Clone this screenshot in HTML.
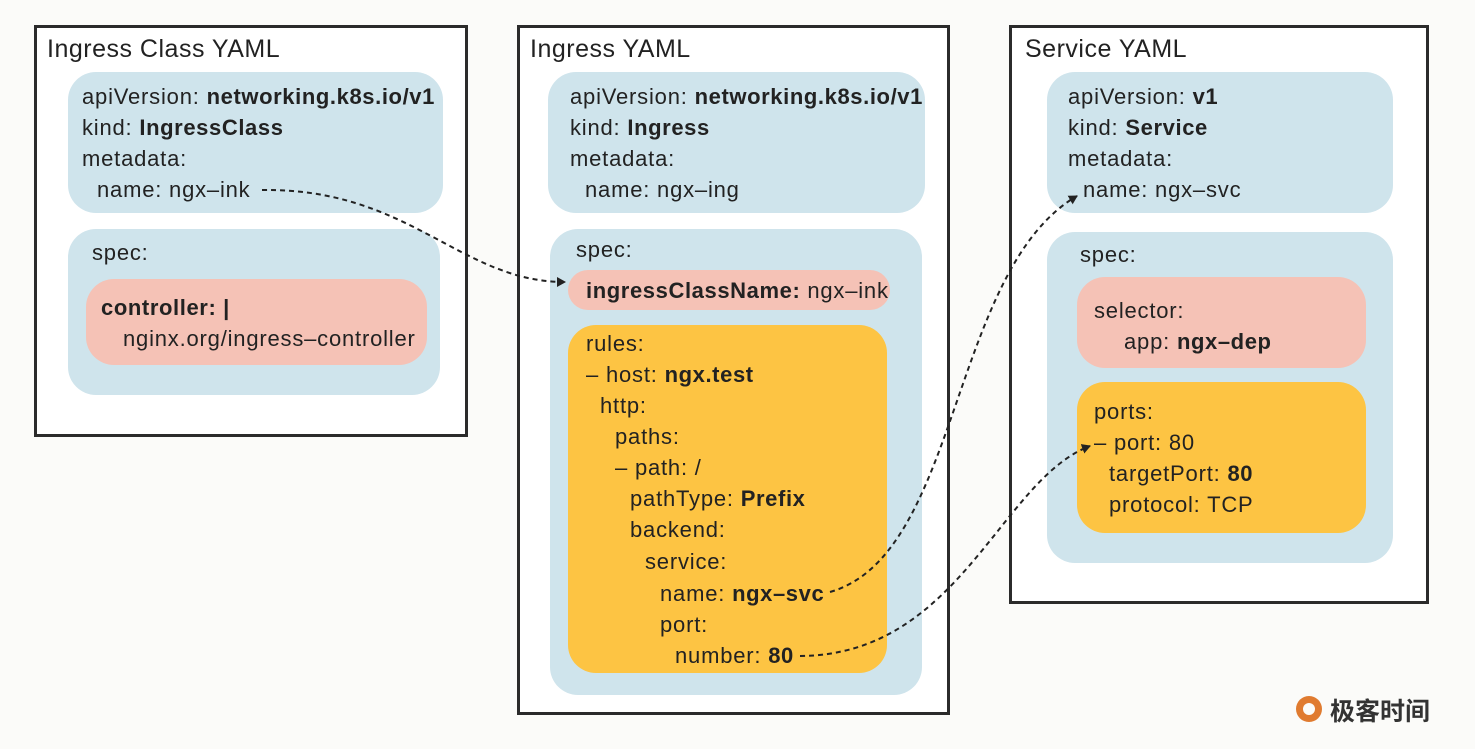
<!DOCTYPE html>
<html><head><meta charset="utf-8"><style>
body{margin:0;width:1475px;height:749px;background:#fbfbf9;position:relative;overflow:hidden;font-family:"Liberation Sans","Noto Sans CJK SC",sans-serif;color:#222}
.box{position:absolute;border:3px solid #2b2b2b;background:#fff;box-sizing:border-box}
.r{position:absolute;border-radius:28px}
.b{background:#cfe4ec}.p{background:#f5c2b6}.y{background:#fdc443}
.t{position:absolute;font-size:22px;letter-spacing:0.8px;line-height:24px;white-space:nowrap;transform:translateY(-12px)}
.h{position:absolute;font-size:25px;letter-spacing:0.5px;white-space:nowrap;transform:translateY(-14px)}
b{font-weight:bold;letter-spacing:0.6px}
</style></head><body>
<div class="box" style="left:34px;top:25px;width:434px;height:412px"></div>
<div class="box" style="left:517px;top:25px;width:433px;height:690px"></div>
<div class="box" style="left:1009px;top:25px;width:420px;height:579px"></div>

<div class="h" style="left:47px;top:49px">Ingress Class YAML</div>
<div class="h" style="left:530px;top:49px">Ingress YAML</div>
<div class="h" style="left:1025px;top:49px">Service YAML</div>

<div class="r b" style="left:68px;top:72px;width:375px;height:141px"></div>
<div class="r b" style="left:68px;top:229px;width:372px;height:166px"></div>
<div class="r p" style="left:86px;top:279px;width:341px;height:86px"></div>
<div class="t" style="left:82px;top:97px">apiVersion: <b>networking.k8s.io/v1</b></div>
<div class="t" style="left:82px;top:128px">kind: <b>IngressClass</b></div>
<div class="t" style="left:82px;top:159px">metadata:</div>
<div class="t" style="left:97px;top:190px">name: ngx–ink</div>
<div class="t" style="left:92px;top:253px">spec:</div>
<div class="t" style="left:101px;top:308px"><b>controller: |</b></div>
<div class="t" style="left:123px;top:339px">nginx.org/ingress–controller</div>

<div class="r b" style="left:548px;top:72px;width:377px;height:141px"></div>
<div class="r b" style="left:550px;top:229px;width:372px;height:466px"></div>
<div class="r p" style="left:568px;top:270px;width:322px;height:40px;border-radius:20px"></div>
<div class="r y" style="left:568px;top:325px;width:319px;height:348px"></div>
<div class="t" style="left:570px;top:97px">apiVersion: <b>networking.k8s.io/v1</b></div>
<div class="t" style="left:570px;top:128px">kind: <b>Ingress</b></div>
<div class="t" style="left:570px;top:159px">metadata:</div>
<div class="t" style="left:585px;top:190px">name: ngx–ing</div>
<div class="t" style="left:576px;top:250px">spec:</div>
<div class="t" style="left:586px;top:291px"><b>ingressClassName:</b> ngx–ink</div>
<div class="t" style="left:586px;top:344px">rules:</div>
<div class="t" style="left:586px;top:375px">– host: <b>ngx.test</b></div>
<div class="t" style="left:600px;top:406px">http:</div>
<div class="t" style="left:615px;top:437px">paths:</div>
<div class="t" style="left:615px;top:468px">– path: /</div>
<div class="t" style="left:630px;top:499px">pathType: <b>Prefix</b></div>
<div class="t" style="left:630px;top:530px">backend:</div>
<div class="t" style="left:645px;top:562px">service:</div>
<div class="t" style="left:660px;top:594px">name: <b>ngx–svc</b></div>
<div class="t" style="left:660px;top:625px">port:</div>
<div class="t" style="left:675px;top:656px">number: <b>80</b></div>

<div class="r b" style="left:1047px;top:72px;width:346px;height:141px"></div>
<div class="r b" style="left:1047px;top:232px;width:346px;height:331px"></div>
<div class="r p" style="left:1077px;top:277px;width:289px;height:91px"></div>
<div class="r y" style="left:1077px;top:382px;width:289px;height:151px"></div>
<div class="t" style="left:1068px;top:97px">apiVersion: <b>v1</b></div>
<div class="t" style="left:1068px;top:128px">kind: <b>Service</b></div>
<div class="t" style="left:1068px;top:159px">metadata:</div>
<div class="t" style="left:1083px;top:190px">name: ngx–svc</div>
<div class="t" style="left:1080px;top:255px">spec:</div>
<div class="t" style="left:1094px;top:311px">selector:</div>
<div class="t" style="left:1124px;top:342px">app: <b>ngx–dep</b></div>
<div class="t" style="left:1094px;top:412px">ports:</div>
<div class="t" style="left:1094px;top:443px">– port: 80</div>
<div class="t" style="left:1109px;top:474px">targetPort: <b>80</b></div>
<div class="t" style="left:1109px;top:505px">protocol: TCP</div>

<svg style="position:absolute;left:0;top:0" width="1475" height="749">
<defs><marker id="a" markerWidth="10" markerHeight="10" refX="8" refY="5" orient="auto" markerUnits="userSpaceOnUse"><path d="M0,0 L9,5 L0,10 z" fill="#222"/></marker></defs>
<g fill="none" stroke="#222" stroke-width="2" stroke-dasharray="5,4">
<path d="M262,190 C410,188 460,282 565,282" marker-end="url(#a)"/>
<path d="M830,592 C960,555 950,270 1077,196" marker-end="url(#a)"/>
<path d="M800,656 C960,655 1000,480 1090,446" marker-end="url(#a)"/>
</g>
<circle cx="1309" cy="709" r="13" fill="#e07b30"/>
<circle cx="1309" cy="709" r="6" fill="#fbfbf9"/>
</svg>
<div style="position:absolute;left:1330px;top:695px;font-size:25px;color:#333;font-weight:bold;font-family:'Noto Sans CJK SC',sans-serif;line-height:30px">极客时间</div>
</body></html>
